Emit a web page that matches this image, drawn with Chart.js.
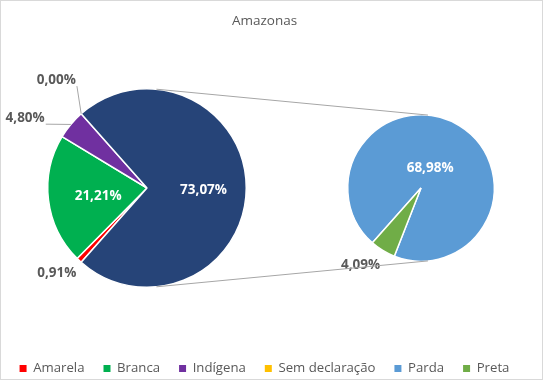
<!DOCTYPE html>
<html>
<head>
<meta charset="utf-8">
<script src="https://cdn.jsdelivr.net/npm/chart.js@4.4.0/dist/chart.umd.min.js"></script>
<style>
  html, body { margin: 0; padding: 0; background: #fff; }
  #wrap { position: relative; width: 543px; height: 380px; }
  #wrap canvas { position: absolute; left: 0; top: 0; }
  #frame { position: absolute; left: 0; top: 0; width: 543px; height: 380px; box-sizing: border-box; border: 1px solid #d9d9d9; pointer-events: none; }
</style>
</head>
<body>
<div id="wrap">
  <canvas id="mainPie" width="543" height="380"></canvas>
  <canvas id="subPie" width="543" height="380"></canvas>
  <div id="frame"></div>
</div>
<script>
// dados (%)
const mainLabels = ['Amarela', 'Branca', 'Indígena', 'Sem declaração', 'Outros'];
const mainValues = [0.91, 21.21, 4.80, 0.00, 73.07];
const subLabels = ['Parda', 'Preta'];
const subValues = [68.98, 4.09];
const legendLabels = ['Amarela', 'Branca', 'Indígena', 'Sem declaração', 'Parda', 'Preta'];

const colors = {
  'Amarela': '#ff0000',
  'Branca': '#00b050',
  'Indígena': '#7030a0',
  'Sem declaração': '#ffc000',
  'Outros': '#264478',
  'Parda': '#5b9bd5',
  'Preta': '#70ad47'
};

const FONT = '"Open Sans", "Noto Sans", sans-serif';
const fmt = v => v.toFixed(2).replace('.', ',') + '%';

// the "other" slice sits centred on the right side, like Excel's pie of pie
const total = mainValues.reduce((a, b) => a + b, 0);
const startRot = 90 + (mainValues[4] / total) * 180;

// where each label goes: dist = fraction of radius, shift = degrees off the slice middle
const mainPlace = [
  { dist: 1.25, shift: 3.5 },
  { dist: 0.5, shift: -3 },
  { dist: 1.415, shift: -10, leader: true },
  { dist: 1.42, shift: 1.5, leader: true },
  { dist: 0.57, shift: 2 }
];
const subPlace = [
  { dist: 0.3, shift: -7 },
  { dist: 1.34, shift: 6.5 }
];

// put the pie in its own square, title and legend keep the full width
const pieBox = {
  id: 'pieBox',
  afterLayout(chart) {
    const left = 47, top = 88, size = 200;
    Object.assign(chart.chartArea, {
      left: left, top: top, right: left + size, bottom: top + size,
      width: size, height: size
    });
  }
};

// rótulos de cada fatia
function sliceLabels(place) {
  return {
    id: 'sliceLabels',
    afterDatasetsDraw(chart) {
      const ctx = chart.ctx;
      const meta = chart.getDatasetMeta(0);
      const values = chart.data.datasets[0].data;
      ctx.save();
      ctx.font = 'bold 13.5px ' + FONT;
      ctx.textAlign = 'center';
      ctx.textBaseline = 'middle';
      meta.data.forEach((arc, i) => {
        const p = place[i];
        const { x, y, startAngle, endAngle, outerRadius } =
          arc.getProps(['x', 'y', 'startAngle', 'endAngle', 'outerRadius'], true);
        const mid = (startAngle + endAngle) / 2;
        const a = mid + p.shift * Math.PI / 180;
        const lx = x + Math.cos(a) * outerRadius * p.dist;
        const ly = y + Math.sin(a) * outerRadius * p.dist;
        const text = fmt(values[i]);
        if (p.leader) {
          const ex = x + Math.cos(mid) * outerRadius;
          const ey = y + Math.sin(mid) * outerRadius;
          const w = ctx.measureText(text).width / 2 + 1;
          const h = 6;
          const bx = Math.min(Math.max(ex, lx - w), lx + w);
          const by = Math.min(Math.max(ey, ly - h), ly + h);
          ctx.strokeStyle = '#a6a6a6';
          ctx.lineWidth = 1;
          ctx.beginPath();
          ctx.moveTo(bx, by);
          ctx.lineTo(ex, ey);
          ctx.stroke();
        }
        ctx.fillStyle = p.dist < 1 ? '#ffffff' : '#595959';
        ctx.fillText(text, lx, ly);
      });
      ctx.restore();
    }
  };
}

const mainChart = new Chart(document.getElementById('mainPie'), {
  type: 'pie',
  data: {
    labels: mainLabels,
    datasets: [{
      data: mainValues,
      backgroundColor: mainLabels.map(l => colors[l]),
      borderColor: '#ffffff',
      borderWidth: 1.5
    }]
  },
  plugins: [pieBox, sliceLabels(mainPlace)],
  options: {
    responsive: false,
    animation: false,
    rotation: startRot,
    events: [],
    layout: { padding: { left: 0, right: 14, top: 0, bottom: -5 } },
    plugins: {
      title: {
        display: true,
        text: 'Amazonas',
        color: '#595959',
        font: { family: FONT, size: 13.5, weight: 'normal' },
        padding: { top: 13, bottom: 6 }
      },
      legend: {
        position: 'bottom',
        onClick: () => {},
        labels: {
          color: '#595959',
          font: { family: FONT, size: 13.2 },
          boxWidth: 7,
          boxHeight: 7,
          padding: 19,
          generateLabels: () => legendLabels.map(l => ({
            text: l,
            fillStyle: colors[l],
            strokeStyle: colors[l],
            lineWidth: 0,
            fontColor: '#595959',
            hidden: false
          }))
        }
      },
      tooltip: { enabled: false }
    }
  }
});

// linhas de ligação entre as duas pizzas (tangentes externas)
const connectors = {
  id: 'connectors',
  afterDraw(chart) {
    const a = mainChart.getDatasetMeta(0).data[0];
    const b = chart.getDatasetMeta(0).data[0];
    const x1 = a.x, y1 = a.y, r1 = a.outerRadius;
    const x2 = b.x, y2 = b.y, r2 = b.outerRadius;
    const d = Math.hypot(x2 - x1, y2 - y1);
    const ux = (x2 - x1) / d, uy = (y2 - y1) / d;
    const k = (r1 - r2) / d;
    const s = Math.sqrt(1 - k * k);
    const ctx = chart.ctx;
    ctx.save();
    ctx.strokeStyle = '#a6a6a6';
    ctx.lineWidth = 1;
    [-1, 1].forEach(sign => {
      const nx = k * ux - sign * s * uy;
      const ny = k * uy + sign * s * ux;
      ctx.beginPath();
      ctx.moveTo(x1 + r1 * nx, y1 + r1 * ny);
      ctx.lineTo(x2 + r2 * nx, y2 + r2 * ny);
      ctx.stroke();
    });
    ctx.restore();
  }
};

new Chart(document.getElementById('subPie'), {
  type: 'pie',
  data: {
    labels: subLabels,
    datasets: [{
      data: subValues,
      backgroundColor: subLabels.map(l => colors[l]),
      borderColor: '#ffffff',
      borderWidth: 1.5
    }]
  },
  plugins: [sliceLabels(subPlace), connectors],
  options: {
    responsive: false,
    animation: false,
    rotation: startRot,
    events: [],
    layout: { padding: { left: 347, right: 48, top: 114, bottom: 118 } },
    plugins: {
      title: { display: false },
      legend: { display: false },
      tooltip: { enabled: false }
    }
  }
});
</script>
</body>
</html>
